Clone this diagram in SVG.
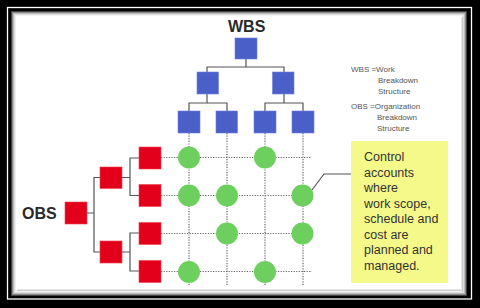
<svg xmlns="http://www.w3.org/2000/svg" width="480" height="308" viewBox="0 0 480 308">
<defs>
<style>
.wbs{fill:#4a5fc8;stroke:#6b7fe0;stroke-width:0.6}
.obs{fill:#e3001b;stroke:#f04050;stroke-width:0.6}
.ca{fill:#6ccf5e}
.tree{fill:none;stroke:#555;stroke-width:1.2}
.grid{fill:none;stroke:#666;stroke-width:1.2;stroke-dasharray:1.2 1.4}
.lbl{font-family:"Liberation Sans",Arial,sans-serif;font-weight:bold;font-size:16px;fill:#2a2a2a}
.leg{font-family:"Liberation Sans",Arial,sans-serif;font-size:8px;fill:#555}
.note{font-family:"Liberation Sans",Arial,sans-serif;font-size:12.5px;fill:#333}
</style>
</defs>
<rect x="0" y="0" width="480" height="308" fill="#000"/>
<rect x="7.5" y="7.5" width="464" height="291.5" fill="none" stroke="#fff" stroke-width="1.3"/>
<rect x="11" y="11" width="456" height="285" fill="#fff"/>
<g fill="none">
<rect x="11.5" y="11.5" width="455" height="284" stroke="#444" stroke-width="1"/>
<rect x="12.5" y="12.5" width="453" height="282" stroke="#888" stroke-width="1"/>
<rect x="13.5" y="13.5" width="451" height="280" stroke="#bbb" stroke-width="1"/>
<rect x="14.5" y="14.5" width="449" height="278" stroke="#ddd" stroke-width="1"/>
<rect x="15.5" y="15.5" width="447" height="276" stroke="#f0f0f0" stroke-width="1"/>
<path d="M462.5 17 V 292 M17 290.5 H 463" stroke="#ccc" stroke-width="1"/>
<path d="M461.5 18 V 291 M18 289.5 H 462" stroke="#e6e6e6" stroke-width="1"/>
</g>

<g id="connectors">
<path class="grid" d="M189 133 V285 M227 133 V285 M265 133 V285 M303 133 V285"/>
<path class="grid" d="M161 157.5 H312 M161 195.5 H312 M161 233.5 H312 M161 271.5 H312"/>
<path class="tree" d="M246 59 V67 M207 72 V67 H284 V72"/>
<path class="tree" d="M207 94 V103 M189 111 V103 H227 V111"/>
<path class="tree" d="M284 94 V103 M265 111 V103 H303 V111"/>
<path class="tree" d="M87 213 H94 M100 177.5 H94 V252 H100"/>
<path class="tree" d="M122 177.5 H130 M139 158 H130 V195.5 H139"/>
<path class="tree" d="M122 252 H130 M139 233 H130 V271 H139"/>
<path class="tree" d="M312 190 L324 174 H351"/>
</g>

<g id="wbs-root"><rect class="wbs" x="235" y="38" width="22" height="21"/></g>
<g id="wbs-1"><rect class="wbs" x="197" y="72" width="21.5" height="22"/></g>
<g id="wbs-2"><rect class="wbs" x="272.5" y="72" width="21.5" height="22"/></g>
<g id="wbs-1-1"><rect class="wbs" x="178" y="111" width="22" height="22"/></g>
<g id="wbs-1-2"><rect class="wbs" x="216" y="111" width="21.5" height="22"/></g>
<g id="wbs-2-1"><rect class="wbs" x="254" y="111" width="22" height="22"/></g>
<g id="wbs-2-2"><rect class="wbs" x="292" y="111" width="22" height="22"/></g>

<g id="obs-root"><rect class="obs" x="65" y="202" width="22" height="22"/></g>
<g id="obs-1"><rect class="obs" x="100" y="167" width="22" height="21.5"/></g>
<g id="obs-2"><rect class="obs" x="100" y="241" width="22" height="22"/></g>
<g id="obs-1-1"><rect class="obs" x="139" y="147" width="22" height="22"/></g>
<g id="obs-1-2"><rect class="obs" x="139" y="184.5" width="22" height="22"/></g>
<g id="obs-2-1"><rect class="obs" x="139" y="222.5" width="22" height="22"/></g>
<g id="obs-2-2"><rect class="obs" x="139" y="260.5" width="22" height="22"/></g>

<g id="control-accounts">
<circle class="ca" cx="189" cy="157.5" r="11"/>
<circle class="ca" cx="265" cy="157.5" r="11"/>
<circle class="ca" cx="189" cy="195.5" r="11"/>
<circle class="ca" cx="227" cy="195.5" r="11"/>
<circle class="ca" cx="302.5" cy="195.5" r="11"/>
<circle class="ca" cx="227" cy="233.5" r="11"/>
<circle class="ca" cx="302.5" cy="233.5" r="11"/>
<circle class="ca" cx="189" cy="272" r="11"/>
<circle class="ca" cx="265" cy="272" r="11"/>
</g>

<g id="labels">
<text class="lbl" x="228" y="32">WBS</text>
<text class="lbl" x="22" y="219">OBS</text>
</g>

<g id="legend">
<text class="leg" x="351" y="72">WBS =Work</text>
<text class="leg" x="378" y="83">Breakdown</text>
<text class="leg" x="378" y="94">Structure</text>
<text class="leg" x="351" y="109">OBS =Organization</text>
<text class="leg" x="377" y="120">Breakdown</text>
<text class="leg" x="377" y="131">Structure</text>
</g>

<g id="note">
<rect x="351" y="141" width="97" height="142" fill="#f5f98a"/>
<text class="note" x="364">
<tspan x="364" y="161">Control</tspan>
<tspan x="364" y="176.5">accounts</tspan>
<tspan x="364" y="192">where</tspan>
<tspan x="364" y="207.5">work scope,</tspan>
<tspan x="364" y="223">schedule and</tspan>
<tspan x="364" y="238.5">cost are</tspan>
<tspan x="364" y="254">planned and</tspan>
<tspan x="364" y="270">managed.</tspan>
</text>
</g>
</svg>
